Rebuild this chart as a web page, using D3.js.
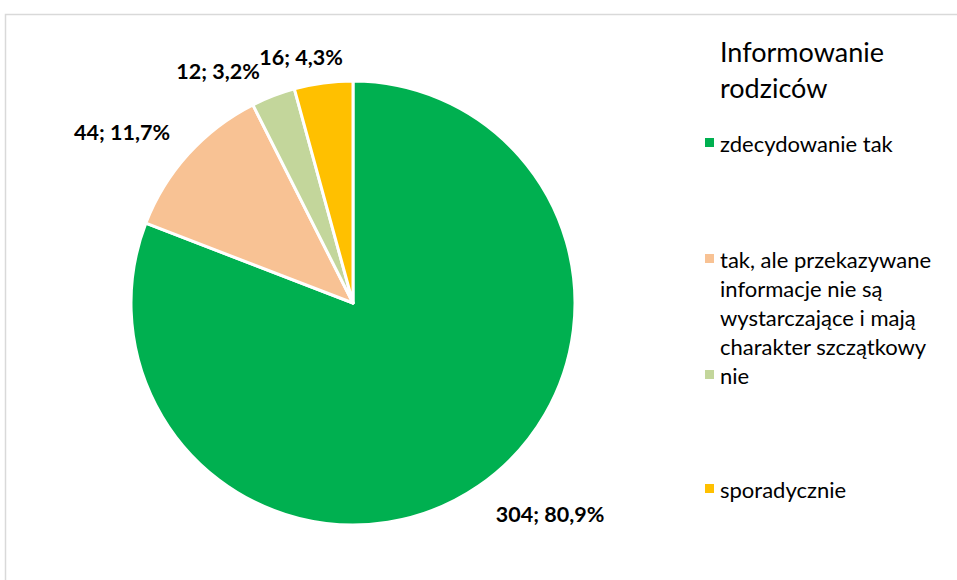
<!DOCTYPE html>
<html>
<head>
<meta charset="utf-8">
<script src="https://cdn.jsdelivr.net/npm/d3@7"></script>
<style>
  html, body { margin: 0; padding: 0; background: #fff; }
  svg { display: block; font-family: Lato, "Open Sans", sans-serif; }
</style>
</head>
<body>
<svg id="chart" width="957" height="580"></svg>
<script>
const categories = [
  "zdecydowanie tak",
  "tak, ale przekazywane informacje nie są wystarczające i mają charakter szczątkowy",
  "nie",
  "sporadycznie"
];
const values = [304, 44, 12, 16];
const percentLabels = ["80,9%", "11,7%", "3,2%", "4,3%"];
const colors = ["#00b050", "#f8c294", "#c3d69b", "#ffc000"];
const legendTitle = ["Informowanie", "rodziców"];
const legendLines = [
  ["zdecydowanie tak"],
  ["tak, ale przekazywane", "informacje nie są", "wystarczające i mają", "charakter szczątkowy"],
  ["nie"],
  ["sporadycznie"]
];

const svg = d3.select("#chart");

// frame of the chart area
svg.append("rect")
  .attr("x", 5.5).attr("y", 14.5)
  .attr("width", 1000).attr("height", 1000)
  .attr("fill", "#fff").attr("stroke", "#d9d9d9").attr("stroke-width", 1.5);

const cx = 353, cy = 303, r = 222;
const data = categories.map((c, i) => ({ name: c, value: values[i], pct: percentLabels[i], color: colors[i] }));

const pie = d3.pie().value(d => d.value).sort(null);
const arcs = pie(data);
const arc = d3.arc().innerRadius(0).outerRadius(r);

const g = svg.append("g").attr("transform", `translate(${cx},${cy})`);
g.selectAll("path").data(arcs).join("path")
  .attr("d", arc)
  .attr("fill", d => d.data.color)
  .attr("stroke", "#fff")
  .attr("stroke-width", 3)
  .attr("stroke-linejoin", "round");

// data labels sit just outside their slices
const labelPos = [[550, 514], [122, 132], [218, 71], [301, 57]];

svg.selectAll("text.lbl").data(arcs).join("text")
  .attr("class", "lbl")
  .attr("x", (d, i) => labelPos[i][0])
  .attr("y", (d, i) => labelPos[i][1])
  .attr("text-anchor", "middle")
  .attr("dominant-baseline", "central")
  .attr("font-weight", "bold")
  .attr("font-size", 21.5)
  .attr("fill", "#000")
  .text(d => `${d.data.value}; ${d.data.pct}`);

// legend
const leg = svg.append("g");
leg.selectAll("text.title").data(legendTitle).join("text")
  .attr("class", "title")
  .attr("x", 720).attr("y", (d, i) => 62 + i * 36)
  .attr("font-size", 27).attr("fill", "#000")
  .text(d => d);

const itemTops = [143, 259, 375, 489];
data.forEach((d, i) => {
  leg.append("rect")
    .attr("x", 705).attr("y", itemTops[i] - 5)
    .attr("width", 9).attr("height", 9)
    .attr("fill", d.color);
  legendLines[i].forEach((line, j) => {
    leg.append("text")
      .attr("x", 720).attr("y", itemTops[i] + j * 29)
      .attr("dominant-baseline", "central")
      .attr("font-size", 22).attr("fill", "#000")
      .text(line);
  });
});
</script>
</body>
</html>
